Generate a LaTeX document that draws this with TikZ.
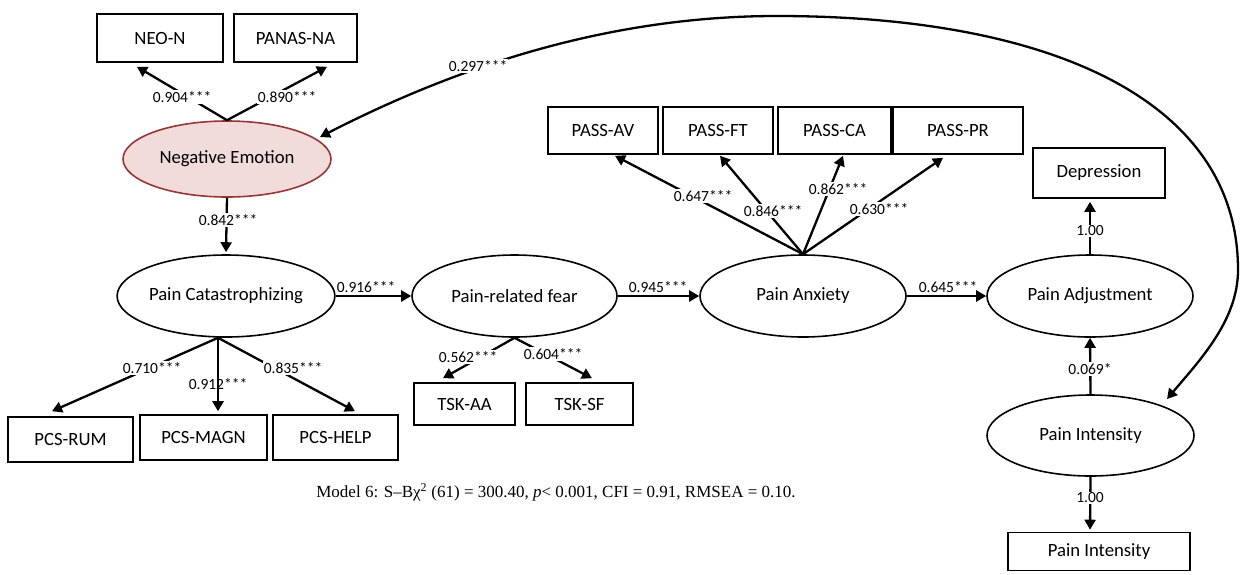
\documentclass[tikz,border=0pt]{standalone}
\usepackage{fontspec}
\setmainfont{Carlito}
\newfontfamily\capfont{Liberation Serif}
\usetikzlibrary{shapes.geometric,arrows.meta,calc}
\definecolor{nefill}{RGB}{242,220,219}
\definecolor{nedraw}{RGB}{149,55,53}
\begin{document}
\begin{tikzpicture}[x=1pt,y=-1pt,
  box/.style={draw,line width=1.6pt,rectangle,inner sep=0pt,font=\fontsize{18.7}{20}\selectfont},
  lat/.style={draw,line width=1.6pt,ellipse,inner sep=0pt,font=\fontsize{18.7}{20}\selectfont},
  arr/.style={line width=2.3pt,-{Triangle[length=10pt,width=11pt]}},
  dbl/.style={line width=2.3pt,{Triangle[length=10pt,width=11pt]}-{Triangle[length=10pt,width=11pt]}},
  lab/.style={fill=white,inner sep=1pt,font=\fontsize{15.5}{17}\selectfont}]
\useasboundingbox (0,0) rectangle (1241,574);
% latent variables
\node[lat,fill=nefill,draw=nedraw,minimum width=208pt,minimum height=76pt] (ne) at (227,159) {Negative Emotion};
\node[lat,minimum width=205pt,minimum height=82pt] (pc) at (226,296) {Pain Catastrophizing};
\node[lat,minimum width=205pt,minimum height=82pt] (prf) at (514.5,296) {Pain-related fear};
\node[lat,minimum width=206pt,minimum height=82pt] (pa) at (803,296) {Pain Anxiety};
\node[lat,minimum width=206pt,minimum height=82pt] (padj) at (1090,296) {Pain Adjustment};
\node[lat,minimum width=207pt,minimum height=81pt] (pi) at (1090.5,435.5) {Pain Intensity};
% indicators
\node[box,minimum width=126pt,minimum height=48pt] (neon) at (160,38) {NEO-N};
\node[box,minimum width=123pt,minimum height=48pt] (panas) at (295.5,38) {PANAS-NA};
\node[box,minimum width=110pt,minimum height=47pt] (pav) at (603,130.5) {PASS-AV};
\node[box,minimum width=110pt,minimum height=47pt] (pft) at (718,130.5) {PASS-FT};
\node[box,minimum width=113pt,minimum height=47pt] (pca) at (834.5,130.5) {PASS-CA};
\node[box,minimum width=130pt,minimum height=47pt] (ppr) at (958,130.5) {PASS-PR};
\node[box,minimum width=132pt,minimum height=50pt] (dep) at (1099,173) {Depression};
\node[box,minimum width=125pt,minimum height=45pt] (rum) at (70.5,439.5) {PCS-RUM};
\node[box,minimum width=127pt,minimum height=45pt] (magn) at (203.5,437.5) {PCS-MAGN};
\node[box,minimum width=125pt,minimum height=45pt] (help) at (335.5,437.5) {PCS-HELP};
\node[box,minimum width=101pt,minimum height=42pt] (taa) at (464.5,404) {TSK-AA};
\node[box,minimum width=107pt,minimum height=42pt] (tsf) at (579.5,404) {TSK-SF};
\node[box,minimum width=182pt,minimum height=38pt] (pib) at (1099,551.5) {Pain Intensity};
% arrows
\draw[arr] (ne.north) -- ([xshift=-23pt,yshift=-4pt]neon.south);
\draw[arr] (ne.north) -- ([xshift=31.5pt,yshift=-4pt]panas.south);
\draw[arr] (ne.south) -- ([yshift=2pt]pc.north);
\draw[arr] (pc.east) -- (prf.west);
\draw[arr] (prf.east) -- (pa.west);
\draw[arr] (pa.east) -- (padj.west);
\draw[arr] (pa.north) -- ([xshift=12pt,yshift=-1pt]pav.south);
\draw[arr] (pa.north) -- ([xshift=2pt,yshift=-1pt]pft.south);
\draw[arr] (pa.north) -- ([xshift=8.5pt,yshift=-1pt]pca.south);
\draw[arr] (pa.north) -- ([xshift=-15pt,yshift=-3pt]ppr.south);
\draw[arr] (padj.north) -- ([xshift=-9pt,yshift=-3pt]dep.south);
\draw[arr] ([xshift=-8pt]pc.south) -- ([xshift=-18.5pt,yshift=5pt]rum.north);
\draw[arr] ([xshift=-8pt]pc.south) -- ([xshift=14.5pt,yshift=3pt]magn.north);
\draw[arr] ([xshift=-8pt]pc.south) -- ([xshift=19.5pt,yshift=3pt]help.north);
\draw[arr] (prf.south) -- ([xshift=-21.5pt,yshift=4pt]taa.north);
\draw[arr] (prf.south) -- ([xshift=12.5pt,yshift=4pt]tsf.north);
\draw[arr] (pi.north) -- (padj.south);
\draw[arr] (pi.south) -- ([xshift=-9pt,yshift=2pt]pib.north);
\draw[dbl] ($(ne.center)+(93,-22)$) .. controls (470,60) and (620,16) .. (777,16)
  .. controls (1050,16) and (1238,100) .. (1238,270)
  .. controls (1238,320) and (1200,360) .. ($(pi.center)+(76.5,-36.5)$);
% labels
\node[lab] (l1) at (182,97) {0.904***};
\node[lab] (l2) at (287,97) {0.890***};
\node[lab] (l3) at (228,220) {0.842***};
\node[lab,fill=none] (l4) at (366,287) {0.916***};
\node[lab,fill=none] (l5) at (658,287) {0.945***};
\node[lab,fill=none] (l6) at (948,287) {0.645***};
\node[lab] (l7) at (703,196) {0.647***};
\node[lab] (l8) at (773,211) {0.846***};
\node[lab] (l9) at (838,189) {0.862***};
\node[lab] (l10) at (879,209) {0.630***};
\node[lab] (l11) at (1090,231) {1.00};
\node[lab] (l12) at (152,368) {0.710***};
\node[lab,fill=none] (l13) at (218,384) {0.912***};
\node[lab] (l14) at (293,368) {0.835***};
\node[lab] (l15) at (468,357) {0.562***};
\node[lab] (l16) at (553,354) {0.604***};
\node[lab] (l17) at (1090,369) {0.069*};
\node[lab] (l18) at (1090,498) {1.00};
\node[lab] (l19) at (478,66) {0.297***};
% caption
\node[font=\capfont\fontsize{17}{20}\selectfont] (cap) at (556,492) {Model 6: S–Bχ\textsuperscript{2} (61) = 300.40, \textit{p}< 0.001, CFI = 0.91, RMSEA = 0.10.};
\end{tikzpicture}
\end{document}
